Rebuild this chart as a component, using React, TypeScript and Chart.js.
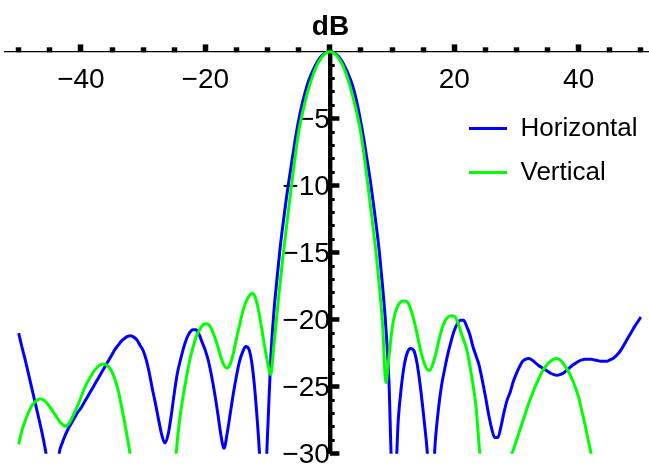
import React, { useEffect, useRef } from "react";
import { Chart, registerables } from "chart.js";

Chart.register(...registerables);

// Angle (degrees), step 0.5 from -50 to 50
const angles: number[] = [
  -50, -49.5, -49, -48.5, -48, -47.5, -47, -46.5, -46, -45.5,
  -45, -44.5, -44, -43.5, -43, -42.5, -42, -41.5, -41, -40.5,
  -40, -39.5, -39, -38.5, -38, -37.5, -37, -36.5, -36, -35.5,
  -35, -34.5, -34, -33.5, -33, -32.5, -32, -31.5, -31, -30.5,
  -30, -29.5, -29, -28.5, -28, -27.5, -27, -26.5, -26, -25.5,
  -25, -24.5, -24, -23.5, -23, -22.5, -22, -21.5, -21, -20.5,
  -20, -19.5, -19, -18.5, -18, -17.5, -17, -16.5, -16, -15.5,
  -15, -14.5, -14, -13.5, -13, -12.5, -12, -11.5, -11, -10.5,
  -10, -9.5, -9, -8.5, -8, -7.5, -7, -6.5, -6, -5.5,
  -5, -4.5, -4, -3.5, -3, -2.5, -2, -1.5, -1, -0.5,
  0, 0.5, 1, 1.5, 2, 2.5, 3, 3.5, 4, 4.5,
  5, 5.5, 6, 6.5, 7, 7.5, 8, 8.5, 9, 9.5,
  10, 10.5, 11, 11.5, 12, 12.5, 13, 13.5, 14, 14.5,
  15, 15.5, 16, 16.5, 17, 17.5, 18, 18.5, 19, 19.5,
  20, 20.5, 21, 21.5, 22, 22.5, 23, 23.5, 24, 24.5,
  25, 25.5, 26, 26.5, 27, 27.5, 28, 28.5, 29, 29.5,
  30, 30.5, 31, 31.5, 32, 32.5, 33, 33.5, 34, 34.5,
  35, 35.5, 36, 36.5, 37, 37.5, 38, 38.5, 39, 39.5,
  40, 40.5, 41, 41.5, 42, 42.5, 43, 43.5, 44, 44.5,
  45, 45.5, 46, 46.5, 47, 47.5, 48, 48.5, 49, 49.5,
  50,
];

// Horizontal pattern (dB)
const horizontal: (number | null)[] = [
  -21.0, -22.0, -22.9, -23.9, -24.9, -25.9, -26.9, -27.9, -29.0, -30.3,
  -32.0, -34.0, -32.5, -30.0, -29.2, -28.6, -28.1, -27.7, -27.3, -26.9,
  -26.6, -26.2, -25.8, -25.4, -25.0, -24.6, -24.2, -23.8, -23.4, -23.0,
  -22.6, -22.2, -21.9, -21.6, -21.4, -21.25, -21.2, -21.3, -21.5, -21.9,
  -22.3, -23.0, -24.0, -25.2, -26.3, -27.5, -28.6, -29.2, -28.6, -27.2,
  -25.5, -24.0, -23.0, -22.1, -21.4, -20.95, -20.75, -20.75, -21.1, -21.7,
  -22.3, -23.1, -24.2, -25.5, -27.0, -28.6, -29.6, -28.5, -27.0, -25.5,
  -24.2, -23.1, -22.4, -22.0, -22.2, -23.3, -25.5, -28.5, -32.0, -33.0,
  -28.5, -23.0, -19.5, -17.0, -14.7, -12.8, -11.0, -9.4, -7.9, -6.4,
  -5.1, -4.0, -3.1, -2.3, -1.7, -1.2, -0.75, -0.42, -0.19, -0.05,
  0, -0.05, -0.19, -0.42, -0.75, -1.2, -1.7, -2.3, -3.1, -4.1,
  -5.3, -6.6, -8.1, -9.6, -11.3, -13.1, -15.1, -17.6, -20.5, -24.5,
  -31.5, -32.0, -27.5, -25.0, -23.3, -22.4, -22.15, -22.3, -23.2, -24.8,
  -26.8, -29.0, -31.5, -32.0, -28.8, -26.5, -24.8, -23.6, -22.5, -21.6,
  -20.8, -20.3, -20.05, -20.05, -20.5, -21.1, -22.0, -22.7, -23.4, -24.5,
  -25.7, -27.0, -28.1, -28.8, -28.8, -28.0, -26.9, -26.0, -25.4, -24.6,
  -24.0, -23.5, -23.1, -22.95, -22.9, -23.0, -23.2, -23.4, -23.55, -23.7,
  -23.85, -24.0, -24.1, -24.15, -24.1, -24.0, -23.8, -23.6, -23.4, -23.25,
  -23.1, -23.0, -22.95, -22.95, -22.95, -23.0, -23.05, -23.1, -23.1, -23.1,
  -23.0, -22.9, -22.7, -22.45, -22.1, -21.7, -21.3, -20.9, -20.5, -20.15,
  -19.8,
];

// Vertical pattern (dB)
const vertical: (number | null)[] = [
  -29.3, -28.3, -27.6, -27.0, -26.5, -26.2, -26.0, -25.9, -26.0, -26.2,
  -26.5, -26.85, -27.2, -27.55, -27.8, -27.95, -27.8, -27.4, -26.9, -26.4,
  -25.8, -25.2, -24.7, -24.3, -23.9, -23.6, -23.4, -23.3, -23.35, -23.55,
  -23.9, -24.5, -25.3, -26.4, -27.6, -28.9, -30.3, -31.8, null, null,
  null, null, null, null, null, null, null, null, null, null,
  -31.5, -29.0, -27.0, -25.5, -24.2, -23.0, -22.1, -21.3, -20.8, -20.45,
  -20.3, -20.35, -20.7, -21.3, -22.0, -22.8, -23.4, -23.6, -23.3, -22.5,
  -21.4, -20.4, -19.4, -18.7, -18.25, -18.05, -18.3, -19.2, -20.5, -21.9,
  -23.2, -24.1, -22.0, -19.6, -17.3, -15.2, -13.2, -11.3, -9.4, -7.6,
  -6.0, -4.8, -3.8, -2.9, -2.15, -1.5, -0.95, -0.55, -0.24, -0.06,
  0, -0.06, -0.24, -0.55, -0.95, -1.5, -2.2, -3.0, -3.9, -4.9,
  -6.1, -7.7, -9.5, -11.4, -13.3, -15.3, -17.7, -20.5, -24.7, -22.8,
  -20.7, -19.5, -18.9, -18.65, -18.6, -18.7, -19.2, -20.0, -21.0, -22.1,
  -23.0, -23.6, -23.8, -23.4, -22.6, -21.6, -20.7, -20.1, -19.8, -19.7,
  -19.75, -20.1, -20.8, -21.5, -22.2, -23.4, -24.8, -26.5, -29.4, -32.0,
  null, null, null, null, null, null, null, -32.0, -30.4, -29.7,
  -29.0, -28.3, -27.6, -26.9, -26.2, -25.6, -25.0, -24.5, -24.0, -23.6,
  -23.3, -23.1, -22.95, -22.9, -23.0, -23.25, -23.6, -24.0, -24.5, -25.1,
  -25.8, -26.8, -27.8, -28.9, -30.0, -31.2, null, null, null, null,
  null, null, null, null, null, null, null, null, null, null,
  null,
];

const seriesNames = ["Horizontal", "Vertical"];
const seriesColors = ["#0000ff", "#00ff00"];

const xMajorTicks = [-40, -20, 0, 20, 40];
const xMajorLabels = ["\u221240", "\u221220", "", "20", "40"];
const xMinorTicks = [-50, -45, -35, -30, -25, -15, -10, -5, 5, 10, 15, 25, 30, 35, 45, 50];
const yMajorTicks = [-30, -25, -20, -15, -10, -5];
const yMajorLabels = ["\u221230", "\u221225", "\u221220", "\u221215", "\u221210", "\u22125"];
const yMinorTicks = [
  -29, -28, -27, -26, -24, -23, -22, -21, -19, -18, -17, -16,
  -14, -13, -12, -11, -9, -8, -7, -6, -4, -3, -2, -1,
];
const axisTitle = "dB";

const X_MIN = -52.2;
const X_MAX = 51.3;
const Y_MIN = -30;
const Y_MAX = 0;

const FONT = '"Liberation Sans", Arial, Helvetica, sans-serif';

export default function App() {
  const canvasRef = useRef<HTMLCanvasElement | null>(null);

  useEffect(() => {
    document.body.style.margin = "0";
    const canvas = canvasRef.current;
    if (!canvas) return;

    const toPoints = (vals: (number | null)[]) =>
      angles.map((a, i) => ({ x: a, y: vals[i] }));

    const tickFont = { family: FONT, size: 28, lineHeight: 1 };
    const yLabelFont = { family: FONT, size: 28, lineHeight: 0.2 };

    const lineDataset = (idx: number, vals: (number | null)[], order: number) => ({
      label: seriesNames[idx],
      data: toPoints(vals) as any,
      borderColor: seriesColors[idx],
      backgroundColor: seriesColors[idx],
      borderWidth: 3,
      pointRadius: 0,
      tension: 0.4,
      cubicInterpolationMode: "monotone",
      spanGaps: false,
      order,
      clip: { left: 0, top: 4, right: 0, bottom: 0 } as any,
      xAxisID: "x",
      yAxisID: "y",
    });

    const chart = new Chart(canvas, {
      type: "line",
      data: {
        datasets: [lineDataset(0, horizontal, 1), lineDataset(1, vertical, 0)] as any,
      },
      options: {
        animation: false,
        responsive: false,
        maintainAspectRatio: false,
        layout: { padding: { left: 5, right: 0, top: 51.7, bottom: 12.3 } },
        plugins: {
          legend: { display: false },
          tooltip: { enabled: false },
          title: { display: false },
        },
        scales: {
          x: {
            type: "linear",
            axis: "x",
            min: X_MIN,
            max: X_MAX,
            position: { y: 0 } as any,
            z: 1,
            border: { display: true, color: "#000", width: 1.3 },
            grid: {
              display: true,
              drawOnChartArea: false,
              drawTicks: true,
              tickLength: -5,
              tickWidth: 5.5,
              tickColor: "#000",
            },
            ticks: { display: false },
            afterBuildTicks: (s: any) => {
              s.ticks = xMinorTicks.map((v) => ({ value: v }));
            },
          },
          x2: {
            type: "linear",
            axis: "x",
            min: X_MIN,
            max: X_MAX,
            position: { y: 0 } as any,
            z: 1,
            border: { display: false },
            grid: {
              display: true,
              drawOnChartArea: false,
              drawTicks: true,
              tickLength: -7.6,
              tickWidth: 5.5,
              tickColor: "#000",
            },
            ticks: {
              display: true,
              autoSkip: false,
              maxRotation: 0,
              padding: 22.5,
              color: "#000",
              font: tickFont,
              callback: (v: any) => {
                const i = xMajorTicks.indexOf(Number(v));
                return i >= 0 ? xMajorLabels[i] : "";
              },
            },
            afterBuildTicks: (s: any) => {
              s.ticks = xMajorTicks.map((v) => ({ value: v }));
            },
          },
          y: {
            type: "linear",
            axis: "y",
            min: Y_MIN,
            max: Y_MAX,
            position: { x: 0 } as any,
            z: 1,
            border: { display: true, color: "#000", width: 4.4 },
            grid: {
              display: true,
              drawOnChartArea: false,
              drawTicks: true,
              tickLength: -6.7,
              tickWidth: 3,
              tickColor: "#000",
            },
            ticks: { display: false },
            afterBuildTicks: (s: any) => {
              s.ticks = yMinorTicks.map((v) => ({ value: v }));
            },
          },
          yMajor: {
            type: "linear",
            axis: "y",
            min: Y_MIN,
            max: Y_MAX,
            position: { x: 0 } as any,
            z: 1,
            border: { display: false },
            grid: {
              display: true,
              drawOnChartArea: false,
              drawTicks: true,
              tickLength: -9.4,
              tickWidth: 4.5,
              tickColor: "#000",
            },
            ticks: { display: false },
            afterBuildTicks: (s: any) => {
              s.ticks = yMajorTicks.map((v) => ({ value: v }));
            },
          },
          yLabels: {
            type: "linear",
            axis: "y",
            min: Y_MIN,
            max: Y_MAX,
            position: { x: 0 } as any,
            z: 1,
            border: { display: false },
            grid: { display: false, drawTicks: false, drawOnChartArea: false },
            ticks: {
              display: true,
              autoSkip: false,
              padding: 7,
              labelOffset: 2,
              color: "#000",
              font: yLabelFont,
              callback: (v: any) => {
                const i = yMajorTicks.indexOf(Number(v));
                return i >= 0 ? yMajorLabels[i] : "";
              },
            },
            afterBuildTicks: (s: any) => {
              s.ticks = yMajorTicks.map((v) => ({ value: v }));
            },
          },
        },
      } as any,
    });

    return () => {
      chart.destroy();
    };
  }, []);

  const legendText: React.CSSProperties = {
    position: "absolute",
    left: 520.5,
    fontFamily: FONT,
    fontSize: 26,
    lineHeight: "26px",
    color: "#000",
    whiteSpace: "nowrap",
  };
  const legendLine: React.CSSProperties = {
    position: "absolute",
    left: 469,
    width: 38,
    height: 3,
  };

  return (
    <div style={{ position: "relative", width: 649, height: 466, overflow: "hidden" }}>
      <canvas
        ref={canvasRef}
        width={649}
        height={466}
        style={{ display: "block", width: 649, height: 466 }}
      />
      <div
        style={{
          position: "absolute",
          left: 280.5,
          width: 100,
          top: 12.3,
          textAlign: "center",
          fontFamily: FONT,
          fontWeight: "bold",
          fontSize: 28,
          lineHeight: "28px",
          color: "#000",
        }}
      >
        {axisTitle}
      </div>
      <div style={{ ...legendLine, top: 126.8, background: seriesColors[0] }} />
      <div style={{ ...legendText, top: 114 }}>{seriesNames[0]}</div>
      <div style={{ ...legendLine, top: 171.2, background: seriesColors[1] }} />
      <div style={{ ...legendText, top: 158 }}>{seriesNames[1]}</div>
    </div>
  );
}
